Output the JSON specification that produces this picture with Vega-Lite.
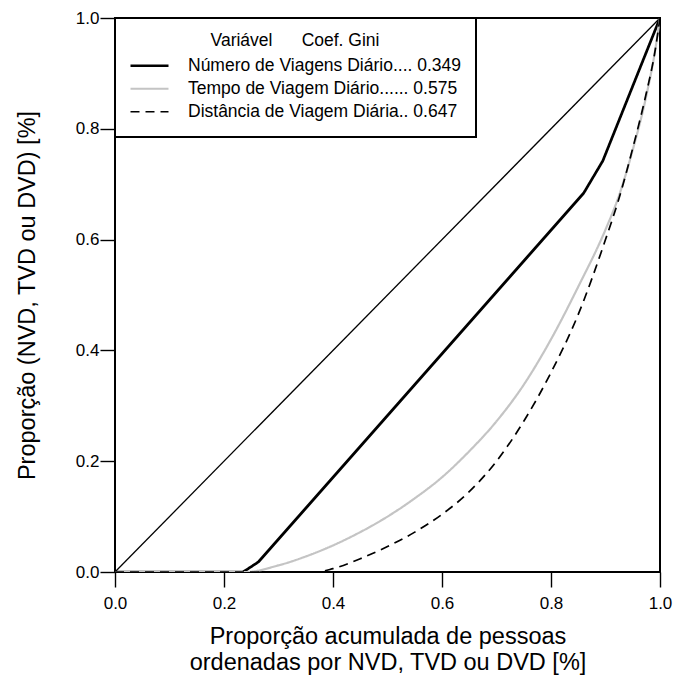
{
  "$schema": "https://vega.github.io/schema/vega-lite/v6.json",
  "width": 545,
  "height": 554,
  "autosize": {"type": "none"},
  "padding": {"left": 115, "top": 18, "right": 13, "bottom": 106},
  "background": "white",
  "config": {
    "font": "Liberation Sans",
    "view": {"stroke": "black", "strokeWidth": 2},
    "axis": {
      "domain": false, "grid": false, "labelFlush": false,
      "tickColor": "black", "tickSize": 15, "tickWidth": 1.4,
      "labelColor": "black", "labelFontSize": 17, "labelFont": "Liberation Sans",
      "titleColor": "black", "titleFontSize": 23.5, "titleFontWeight": "normal", "titleFont": "Liberation Sans"
    },
    "legend": {
      "labelFont": "Liberation Sans", "labelFontSize": 17.5, "labelColor": "black",
      "titleFont": "Liberation Sans", "titleFontSize": 17.5, "titleFontWeight": "normal", "titleColor": "black",
      "titleAnchor": "middle", "titlePadding": 5,
      "strokeColor": "black", "strokeWidth": 2, "fillColor": "white",
      "padding": 14, "symbolType": "stroke", "symbolSize": 1444,
      "clipHeight": 22.5, "rowPadding": 0, "labelOffset": 18, "labelLimit": 400
    }
  },
  "datasets": {
    "curves": [
      {"serie": "NVD", "x": 0, "y": 0},
      {"serie": "NVD", "x": 0.235, "y": 0},
      {"serie": "NVD", "x": 0.263, "y": 0.018},
      {"serie": "NVD", "x": 0.86, "y": 0.684},
      {"serie": "NVD", "x": 0.895, "y": 0.742},
      {"serie": "NVD", "x": 1, "y": 1},
      {"serie": "TVD", "x": 0, "y": 0},
      {"serie": "TVD", "x": 0.24, "y": 0},
      {"serie": "TVD", "x": 0.3, "y": 0.012},
      {"serie": "TVD", "x": 0.35, "y": 0.028},
      {"serie": "TVD", "x": 0.4, "y": 0.048},
      {"serie": "TVD", "x": 0.45, "y": 0.072},
      {"serie": "TVD", "x": 0.5, "y": 0.1},
      {"serie": "TVD", "x": 0.55, "y": 0.133},
      {"serie": "TVD", "x": 0.6, "y": 0.171},
      {"serie": "TVD", "x": 0.65, "y": 0.218},
      {"serie": "TVD", "x": 0.7, "y": 0.272},
      {"serie": "TVD", "x": 0.75, "y": 0.338},
      {"serie": "TVD", "x": 0.8, "y": 0.42},
      {"serie": "TVD", "x": 0.85, "y": 0.515},
      {"serie": "TVD", "x": 0.9, "y": 0.618},
      {"serie": "TVD", "x": 0.925, "y": 0.68},
      {"serie": "TVD", "x": 0.95, "y": 0.762},
      {"serie": "TVD", "x": 0.975, "y": 0.86},
      {"serie": "TVD", "x": 0.99, "y": 0.935},
      {"serie": "TVD", "x": 1, "y": 1},
      {"serie": "DVD", "x": 0, "y": 0},
      {"serie": "DVD", "x": 0.37, "y": 0},
      {"serie": "DVD", "x": 0.4, "y": 0.006},
      {"serie": "DVD", "x": 0.45, "y": 0.024},
      {"serie": "DVD", "x": 0.5, "y": 0.046},
      {"serie": "DVD", "x": 0.55, "y": 0.072},
      {"serie": "DVD", "x": 0.6, "y": 0.104},
      {"serie": "DVD", "x": 0.65, "y": 0.145},
      {"serie": "DVD", "x": 0.7, "y": 0.2},
      {"serie": "DVD", "x": 0.75, "y": 0.272},
      {"serie": "DVD", "x": 0.8, "y": 0.36},
      {"serie": "DVD", "x": 0.85, "y": 0.465},
      {"serie": "DVD", "x": 0.9, "y": 0.6},
      {"serie": "DVD", "x": 0.925, "y": 0.675},
      {"serie": "DVD", "x": 0.95, "y": 0.765},
      {"serie": "DVD", "x": 0.975, "y": 0.865},
      {"serie": "DVD", "x": 0.99, "y": 0.935},
      {"serie": "DVD", "x": 1, "y": 1}
    ],
    "diag": [
      {"x": 0, "y": 0},
      {"x": 1, "y": 1}
    ]
  },
  "encoding": {
    "x": {
      "field": "x", "type": "quantitative",
      "scale": {"domain": [0, 1], "nice": false, "zero": false},
      "axis": {"values": [0, 0.2, 0.4, 0.6, 0.8, 1], "format": ".1f", "labelPadding": 8, "titlePadding": 13, "titleLineHeight": 26,
        "title": ["Proporção acumulada de pessoas", "ordenadas por NVD, TVD ou DVD [%]"]}
    },
    "y": {
      "field": "y", "type": "quantitative",
      "scale": {"domain": [0, 1], "nice": false, "zero": false},
      "axis": {"values": [0, 0.2, 0.4, 0.6, 0.8, 1], "format": ".1f", "labelPadding": 1, "titlePadding": 36,
        "title": "Proporção (NVD, TVD ou DVD) [%]"}
    }
  },
  "layer": [
    {
      "data": {"name": "diag"},
      "mark": {"type": "line", "color": "black", "strokeWidth": 1.3, "clip": true},
      "encoding": {}
    },
    {
      "data": {"name": "curves"},
      "transform": [{"filter": "datum.serie == 'NVD'"}],
      "mark": {"type": "line", "clip": true},
      "encoding": {
        "order": {"field": "x", "type": "quantitative"},
        "color": {
          "field": "serie", "type": "nominal",
          "scale": {"domain": ["NVD", "TVD", "DVD"], "range": ["#000000", "#c4c4c4", "#000000"]},
          "legend": {
            "title": "Variável\u00a0\u00a0\u00a0\u00a0\u00a0\u00a0Coef. Gini",
            "orient": "top-left", "offset": 0,
            "labelExpr": "datum.value == 'NVD' ? 'Número de Viagens Diário.... 0.349' : datum.value == 'TVD' ? 'Tempo de Viagem Diário...... 0.575' : 'Distância de Viagem Diária.. 0.647'"
          }
        },
        "strokeWidth": {
          "field": "serie", "type": "nominal",
          "scale": {"domain": ["NVD", "TVD", "DVD"], "range": [2.7, 1.7, 2]},
          "legend": {
            "title": "Variável\u00a0\u00a0\u00a0\u00a0\u00a0\u00a0Coef. Gini",
            "orient": "top-left", "offset": 0,
            "labelExpr": "datum.value == 'NVD' ? 'Número de Viagens Diário.... 0.349' : datum.value == 'TVD' ? 'Tempo de Viagem Diário...... 0.575' : 'Distância de Viagem Diária.. 0.647'"
          }
        },
        "strokeDash": {
          "field": "serie", "type": "nominal",
          "scale": {"domain": ["NVD", "TVD", "DVD"], "range": [[1, 0], [1, 0], [9, 6]]},
          "legend": {
            "title": "Variável\u00a0\u00a0\u00a0\u00a0\u00a0\u00a0Coef. Gini",
            "orient": "top-left", "offset": 0,
            "labelExpr": "datum.value == 'NVD' ? 'Número de Viagens Diário.... 0.349' : datum.value == 'TVD' ? 'Tempo de Viagem Diário...... 0.575' : 'Distância de Viagem Diária.. 0.647'"
          }
        }
      }
    },
    {
      "data": {"name": "curves"},
      "transform": [{"filter": "datum.serie != 'NVD'"}],
      "mark": {"type": "line", "clip": true, "interpolate": "monotone"},
      "encoding": {
        "order": {"field": "x", "type": "quantitative"},
        "color": {"field": "serie", "type": "nominal"},
        "strokeWidth": {"field": "serie", "type": "nominal"},
        "strokeDash": {"field": "serie", "type": "nominal"}
      }
    }
  ]
}
